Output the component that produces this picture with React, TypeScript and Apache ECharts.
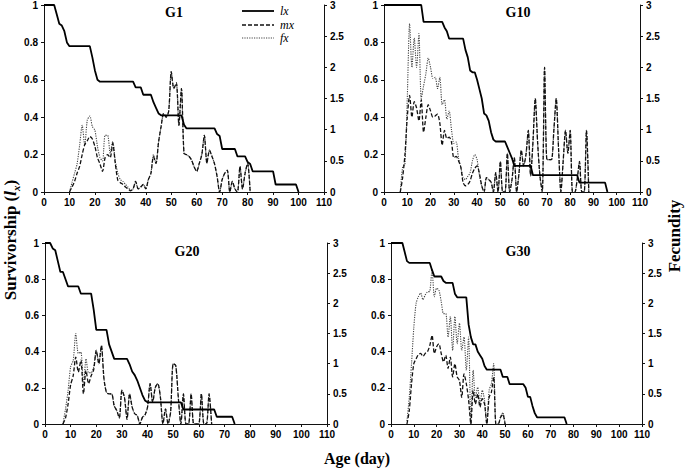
import React, { useEffect, useRef } from "react";
import * as echarts from "echarts";

// ---------- Data ----------
const xTicks = [0, 10, 20, 30, 40, 50, 60, 70, 80, 90, 100, 110];
const panelNames = ["G1", "G10", "G20", "G30"];

// G1
const g1LxStart = 0;
const g1Lx = [1, 1, 1, 1, 1, 0.95, 0.9, 0.89, 0.86, 0.8, 0.78, 0.78, 0.78, 0.78, 0.78, 0.78, 0.78, 0.78, 0.78, 0.72,
  0.65, 0.6, 0.59, 0.59, 0.59, 0.59, 0.59, 0.59, 0.59, 0.59, 0.59, 0.59, 0.59, 0.59, 0.59, 0.59, 0.56, 0.56, 0.56, 0.52,
  0.52, 0.52, 0.52, 0.48, 0.45, 0.42, 0.41, 0.41, 0.41, 0.41, 0.41, 0.41, 0.41, 0.41, 0.41, 0.36, 0.34, 0.34, 0.34, 0.34,
  0.34, 0.34, 0.34, 0.34, 0.34, 0.34, 0.34, 0.34, 0.31, 0.3, 0.23, 0.23, 0.23, 0.23, 0.23, 0.23, 0.19, 0.19, 0.19, 0.19,
  0.16, 0.15, 0.11, 0.11, 0.11, 0.11, 0.11, 0.11, 0.11, 0.11, 0.11, 0.04, 0.04, 0.04, 0.04, 0.04, 0.04, 0.04, 0.04, 0.04, 0];
const g1MxStart = 10;
const g1Mx = [0, 0.08, 0.17, 0.3, 0.41, 0.6, 0.76, 0.82, 0.89, 0.85, 0.73, 0.55, 0.45, 0.33, 0.55, 0.6, 0.55, 0.78, 0.46, 0.19,
  0.15, 0.12, 0.08, 0.05, 0.02, 0.05, 0.17, 0.05, 0.08, 0.12, 0.05, 0.2, 0.3, 0.57, 0.46, 0.8, 1.05, 1.26, 1.2, 1.3,
  1.93, 1.66, 1.75, 1.07, 1.66, 0.62, 0.6, 0.57, 0.51, 0.4, 0.33, 0.46, 0.6, 0.91, 0.46, 0.67, 0.57, 0.45, 0.25, 0,
  0.2, 0.3, 0.35, 0, 0.17, 0.05, 0, 0.41, 0.05, 0.3, 0.46, 0];
const g1FxStart = 10;
const g1Fx = [0, 0.15, 0.3, 0.45, 0.75, 1.07, 0.75, 1.15, 1.22, 1.05, 0.99, 0.73, 0.55, 0.5, 0.91, 0.91, 0.62, 0.81, 0.5, 0.3,
  0.2, 0.17, 0.12, 0.08, 0.03, 0.05, 0.17, 0.05, 0.08, 0.12, 0.05, 0.2, 0.3, 0.6, 0.46, 0.8, 1.05, 1.26, 1.2, 1.3,
  1.93, 1.66, 1.75, 1.07, 1.66, 0.62, 0.6, 0.57, 0.51, 0.4, 0.33, 0.46, 0.6, 0.91, 0.46, 0.67, 0.57, 0.45, 0.25, 0,
  0.2, 0.3, 0.35, 0, 0.17, 0.05, 0, 0.41, 0.05, 0.3, 0.46, 0];

// G10
const g10LxStart = 0;
const g10Lx = [1, 1, 1, 1, 1, 1, 1, 1, 1, 1, 1, 1, 1, 1, 1, 1, 1, 0.91, 0.91, 0.91, 0.91, 0.91, 0.91, 0.91, 0.91, 0.91,
  0.88, 0.86, 0.82, 0.82, 0.82, 0.82, 0.82, 0.82, 0.82, 0.76, 0.72, 0.65, 0.64, 0.64, 0.6, 0.55, 0.5, 0.42, 0.41, 0.38,
  0.32, 0.28, 0.27, 0.27, 0.27, 0.27, 0.27, 0.24, 0.21, 0.18, 0.14, 0.14, 0.14, 0.14, 0.14, 0.14, 0.14, 0.14, 0.09, 0.09,
  0.09, 0.09, 0.09, 0.09, 0.09, 0.09, 0.09, 0.09, 0.09, 0.09, 0.09, 0.09, 0.09, 0.09, 0.09, 0.09, 0.09, 0.09, 0.05, 0.05,
  0.05, 0.05, 0.05, 0.05, 0.05, 0.05, 0.05, 0.05, 0.05, 0.05, 0];
const g10MxStart = 7;
const g10Mx = [0, 0.23, 0.6, 1.2, 1.55, 1.2, 1.45, 1.35, 1.14, 1.48, 0.96, 1.2, 1.4, 1.3, 1.2, 1.22, 1.25, 1.1, 0.75, 0.99,
  0.86, 0.88, 0.8, 0.55, 0.57, 0.5, 0.4, 0.15, 0.1, 0.12, 0.18, 0.3, 0.38, 0.42, 0.3, 0.1, 0, 0.23, 0.2, 0.16,
  0, 0.31, 0, 0.49, 0, 0, 0.62, 0, 0.2, 0.55, 0, 0.3, 0.67, 0.42, 0.6, 0.99, 0.26, 0.8, 1.5, 0.8,
  0.26, 0, 2.0, 0.52, 0.52, 0.52, 1.0, 1.5, 0.7, 0, 0.5, 0.99, 0.62, 0.99, 0, 0, 0.2, 0.49, 0, 0,
  0.99, 0];
const g10FxStart = 7;
const g10Fx = [0, 0.4, 0.45, 1.5, 2.7, 2.0, 2.47, 2.0, 2.54, 1.5, 1.7, 1.9, 2.15, 2.0, 1.82, 1.84, 1.66, 1.84, 1.4, 1.48,
  1.17, 1.3, 1.0, 0.78, 0.8, 0.55, 0.4, 0.23, 0.2, 0.25, 0.31, 0.5, 0.6, 0.52, 0.26, 0.1, 0, 0.23, 0.2, 0.16,
  0, 0.31, 0, 0.49, 0, 0, 0.62, 0, 0.2, 0.55, 0, 0.3, 0.67, 0.42, 0.6, 0.99, 0.26, 0.8, 1.5, 0.8,
  0.26, 0, 2.0, 0.52, 0.52, 0.52, 1.0, 1.5, 0.7, 0, 0.5, 0.99, 0.62, 0.99, 0, 0, 0.2, 0.49, 0, 0,
  0.99, 0];

// G20
const g20LxStart = 0;
const g20Lx = [1, 1, 1, 0.97, 0.96, 0.9, 0.84, 0.84, 0.8, 0.76, 0.76, 0.76, 0.76, 0.76, 0.72, 0.72, 0.72, 0.72, 0.72, 0.63,
  0.52, 0.52, 0.52, 0.52, 0.52, 0.44, 0.4, 0.36, 0.36, 0.36, 0.36, 0.36, 0.36, 0.33, 0.29, 0.27, 0.24, 0.2, 0.16, 0.13,
  0.12, 0.12, 0.12, 0.12, 0.12, 0.12, 0.12, 0.12, 0.12, 0.12, 0.12, 0.12, 0.12, 0.12, 0.08, 0.08, 0.08, 0.08, 0.08, 0.08,
  0.08, 0.08, 0.08, 0.08, 0.08, 0.08, 0.08, 0.04, 0.04, 0.04, 0.04, 0.04, 0.04, 0.04, 0];
const g20MxStart = 7;
const g20Mx = [0, 0.1, 0.33, 0.65, 0.8, 1.11, 0.86, 1.06, 0.5, 0.89, 0.67, 0.8, 0.9, 1.22, 1.0, 1.3, 0.75, 0.52, 0.5, 0.5,
  0.3, 0.22, 0.1, 0.56, 0.44, 0.08, 0.5, 0.28, 0.17, 0.14, 0, 0.11, 0.15, 0.28, 0.67, 0.36, 0.6, 0.67, 0.45, 0,
  0.25, 0, 0.2, 1.0, 0.97, 0.44, 0, 0.5, 0, 0, 0.5, 0, 0, 0, 0.5, 0, 0, 0.5, 0];
const g20FxStart = 7;
const g20Fx = [0, 0.25, 0.55, 0.95, 1.05, 1.5, 1.17, 1.19, 0.64, 1.08, 0.85, 0.85, 0.95, 1.22, 1.0, 1.3, 0.75, 0.52, 0.5, 0.5,
  0.3, 0.22, 0.1, 0.56, 0.44, 0.08, 0.5, 0.28, 0.17, 0.14, 0, 0.11, 0.15, 0.28, 0.67, 0.36, 0.6, 0.67, 0.45, 0,
  0.25, 0, 0.2, 1.0, 0.97, 0.44, 0, 0.5, 0, 0, 0.5, 0, 0, 0, 0.5, 0, 0, 0.5, 0];

// G30
const g30LxStart = 0;
const g30Lx = [1, 1, 1, 1, 1, 1, 0.95, 0.9, 0.89, 0.89, 0.89, 0.89, 0.89, 0.89, 0.89, 0.89, 0.89, 0.89, 0.85, 0.815,
  0.815, 0.815, 0.815, 0.79, 0.78, 0.78, 0.78, 0.78, 0.72, 0.7, 0.7, 0.7, 0.7, 0.7, 0.55, 0.48, 0.44, 0.44, 0.4, 0.38,
  0.36, 0.32, 0.3, 0.3, 0.3, 0.3, 0.3, 0.3, 0.3, 0.26, 0.26, 0.26, 0.22, 0.22, 0.22, 0.22, 0.22, 0.22, 0.22, 0.2,
  0.15, 0.15, 0.1, 0.06, 0.037, 0.037, 0.037, 0.037, 0.037, 0.037, 0.037, 0.037, 0.037, 0.037, 0.037, 0.037, 0.037, 0];
const g30MxStart = 7;
const g30Mx = [0, 0.22, 0.67, 1.0, 1.08, 1.15, 1.17, 1.12, 1.17, 1.2, 1.3, 1.47, 1.17, 1.28, 1.33, 1.17, 1.03, 1.14, 0.92, 1.11,
  0.78, 1.0, 0.78, 0.72, 0.44, 0.83, 0.67, 0.4, 0, 0.56, 0.33, 0.5, 0.28, 0.42, 0.33, 0, 0.44, 0.53, 0.78, 0,
  0, 0.11, 0.16, 0];
const g30FxStart = 7;
const g30Fx = [0.05, 0.44, 1.0, 1.6, 2.0, 2.11, 2.17, 2.06, 2.14, 2.19, 2.2, 2.56, 2.11, 2.25, 2.22, 2.03, 1.83, 1.83, 1.44, 1.78,
  1.22, 1.78, 1.33, 1.67, 1.22, 1.44, 0.89, 1.44, 0, 0.89, 0.44, 0.61, 0.33, 0.56, 0.39, 0, 0.56, 0.67, 1.0, 0,
  0, 0.11, 0.19, 0];

const leftTicks = [0, 0.2, 0.4, 0.6, 0.8, 1];
const rightTicks = [0, 0.5, 1, 1.5, 2, 2.5, 3];

const panels = [
  { lx: [g1LxStart, g1Lx], mx: [g1MxStart, g1Mx], fx: [g1FxStart, g1Fx] },
  { lx: [g10LxStart, g10Lx], mx: [g10MxStart, g10Mx], fx: [g10FxStart, g10Fx] },
  { lx: [g20LxStart, g20Lx], mx: [g20MxStart, g20Mx], fx: [g20FxStart, g20Fx] },
  { lx: [g30LxStart, g30Lx], mx: [g30MxStart, g30Mx], fx: [g30FxStart, g30Fx] },
] as const;

// ---------- Layout ----------
const grids = [
  { left: 44, top: 5, width: 280, height: 187 },
  { left: 384, top: 5, width: 256, height: 187 },
  { left: 45, top: 243, width: 282, height: 181 },
  { left: 391, top: 243, width: 251, height: 181 },
];
const titlePos = [
  [174, 12],
  [518, 12],
  [187, 251],
  [518, 251],
];

const toPairs = (start: number, arr: readonly number[]) => arr.map((v, i) => [start + i, v]);

const tickFont = { fontFamily: "Liberation Sans", fontWeight: "bold" as const, fontSize: 10, color: "#000" };
const axisLine = { show: true, lineStyle: { color: "#111", width: 1 } };

export default function App() {
  const ref = useRef<HTMLDivElement>(null);
  useEffect(() => {
    document.body.style.margin = "0";
    if (!ref.current) return;
    const chart = echarts.init(ref.current, undefined, { renderer: "svg" });

    const xAxis: any[] = [];
    const yAxis: any[] = [];
    const series: any[] = [];
    grids.forEach((_, i) => {
      xAxis.push({
        type: "value",
        gridIndex: i,
        min: xTicks[0],
        max: xTicks[xTicks.length - 1],
        interval: 10,
        axisLine: { ...axisLine, onZero: false },
        axisTick: { show: true, length: 3, lineStyle: { color: "#111" } },
        axisLabel: { ...tickFont, margin: 5 },
        splitLine: { show: false },
      });
      yAxis.push({
        type: "value",
        gridIndex: i,
        position: "left",
        min: leftTicks[0],
        max: leftTicks[leftTicks.length - 1],
        interval: 0.2,
        axisLine,
        axisTick: { show: true, length: 3, lineStyle: { color: "#111" } },
        axisLabel: { ...tickFont, margin: 6, formatter: (v: number) => String(+v.toFixed(1)) },
        splitLine: { show: false },
      });
      yAxis.push({
        type: "value",
        gridIndex: i,
        position: "right",
        min: rightTicks[0],
        max: rightTicks[rightTicks.length - 1],
        interval: 0.5,
        axisLine,
        axisTick: { show: true, length: 3, lineStyle: { color: "#111" } },
        axisLabel: { ...tickFont, margin: 6, formatter: (v: number) => String(+v.toFixed(1)) },
        splitLine: { show: false },
      });
      const p = panels[i];
      series.push({
        type: "line",
        name: "fx",
        xAxisIndex: i,
        yAxisIndex: 2 * i + 1,
        data: toPairs(p.fx[0], p.fx[1]),
        showSymbol: false,
        smooth: 0.25,
        lineStyle: { color: "#444", width: 1.1, type: [1.2, 1.2] },
      });
      series.push({
        type: "line",
        name: "mx",
        xAxisIndex: i,
        yAxisIndex: 2 * i + 1,
        data: toPairs(p.mx[0], p.mx[1]),
        showSymbol: false,
        smooth: 0.25,
        lineStyle: { color: "#111", width: 1.3, type: [4, 2] },
      });
      series.push({
        type: "line",
        name: "lx",
        xAxisIndex: i,
        yAxisIndex: 2 * i,
        data: toPairs(p.lx[0], p.lx[1]),
        showSymbol: false,
        lineStyle: { color: "#000", width: 1.8 },
      });
    });

    const serif = '"Liberation Serif", "Times New Roman", serif';
    const graphic: any[] = [];
    panelNames.forEach((n, i) => {
      graphic.push({
        type: "text",
        x: titlePos[i][0],
        y: titlePos[i][1],
        style: { text: n, font: `bold 14px ${serif}`, fill: "#000", align: "center", verticalAlign: "middle" },
      });
    });
    // legend
    const legendItems = [
      { name: "lx", dash: null, width: 1.8, color: "#000", y: 11 },
      { name: "mx", dash: [4, 2], width: 1.3, color: "#111", y: 25 },
      { name: "fx", dash: [1.2, 1.2], width: 1.1, color: "#444", y: 38 },
    ];
    legendItems.forEach((it) => {
      graphic.push({
        type: "line",
        shape: { x1: 242, y1: it.y, x2: 274, y2: it.y },
        style: { stroke: it.color, lineWidth: it.width, lineDash: it.dash || undefined },
      });
      graphic.push({
        type: "text",
        x: 280,
        y: it.y,
        style: { text: it.name, font: `italic 12px ${serif}`, fill: "#000", verticalAlign: "middle" },
      });
    });
    graphic.push({
      type: "text",
      x: 10,
      y: 240,
      rotation: Math.PI / 2,
      style: {
        text: "{b|Survivorship (}{i|l}{s|x}{b|)}",
        align: "center",
        verticalAlign: "middle",
        fill: "#000",
        rich: {
          b: { font: `bold 17px ${serif}`, lineHeight: 22, verticalAlign: "middle" },
          i: { font: `bold italic 17px ${serif}`, lineHeight: 22, verticalAlign: "middle" },
          s: { font: `bold italic 11px ${serif}`, lineHeight: 22, verticalAlign: "bottom" },
        },
      },
    });
    graphic.push({
      type: "text",
      x: 674,
      y: 236,
      rotation: Math.PI / 2,
      style: { text: "Fecundity", font: `bold 17px ${serif}`, fill: "#000", align: "center", verticalAlign: "middle" },
    });
    graphic.push({
      type: "text",
      x: 357,
      y: 458,
      style: { text: "Age (day)", font: `bold 16px ${serif}`, fill: "#000", align: "center", verticalAlign: "middle" },
    });

    chart.setOption({
      animation: false,
      backgroundColor: "#fff",
      grid: grids,
      xAxis,
      yAxis,
      series,
      graphic,
    });
    return () => chart.dispose();
  }, []);
  return <div ref={ref} style={{ width: 685, height: 468 }} />;
}
